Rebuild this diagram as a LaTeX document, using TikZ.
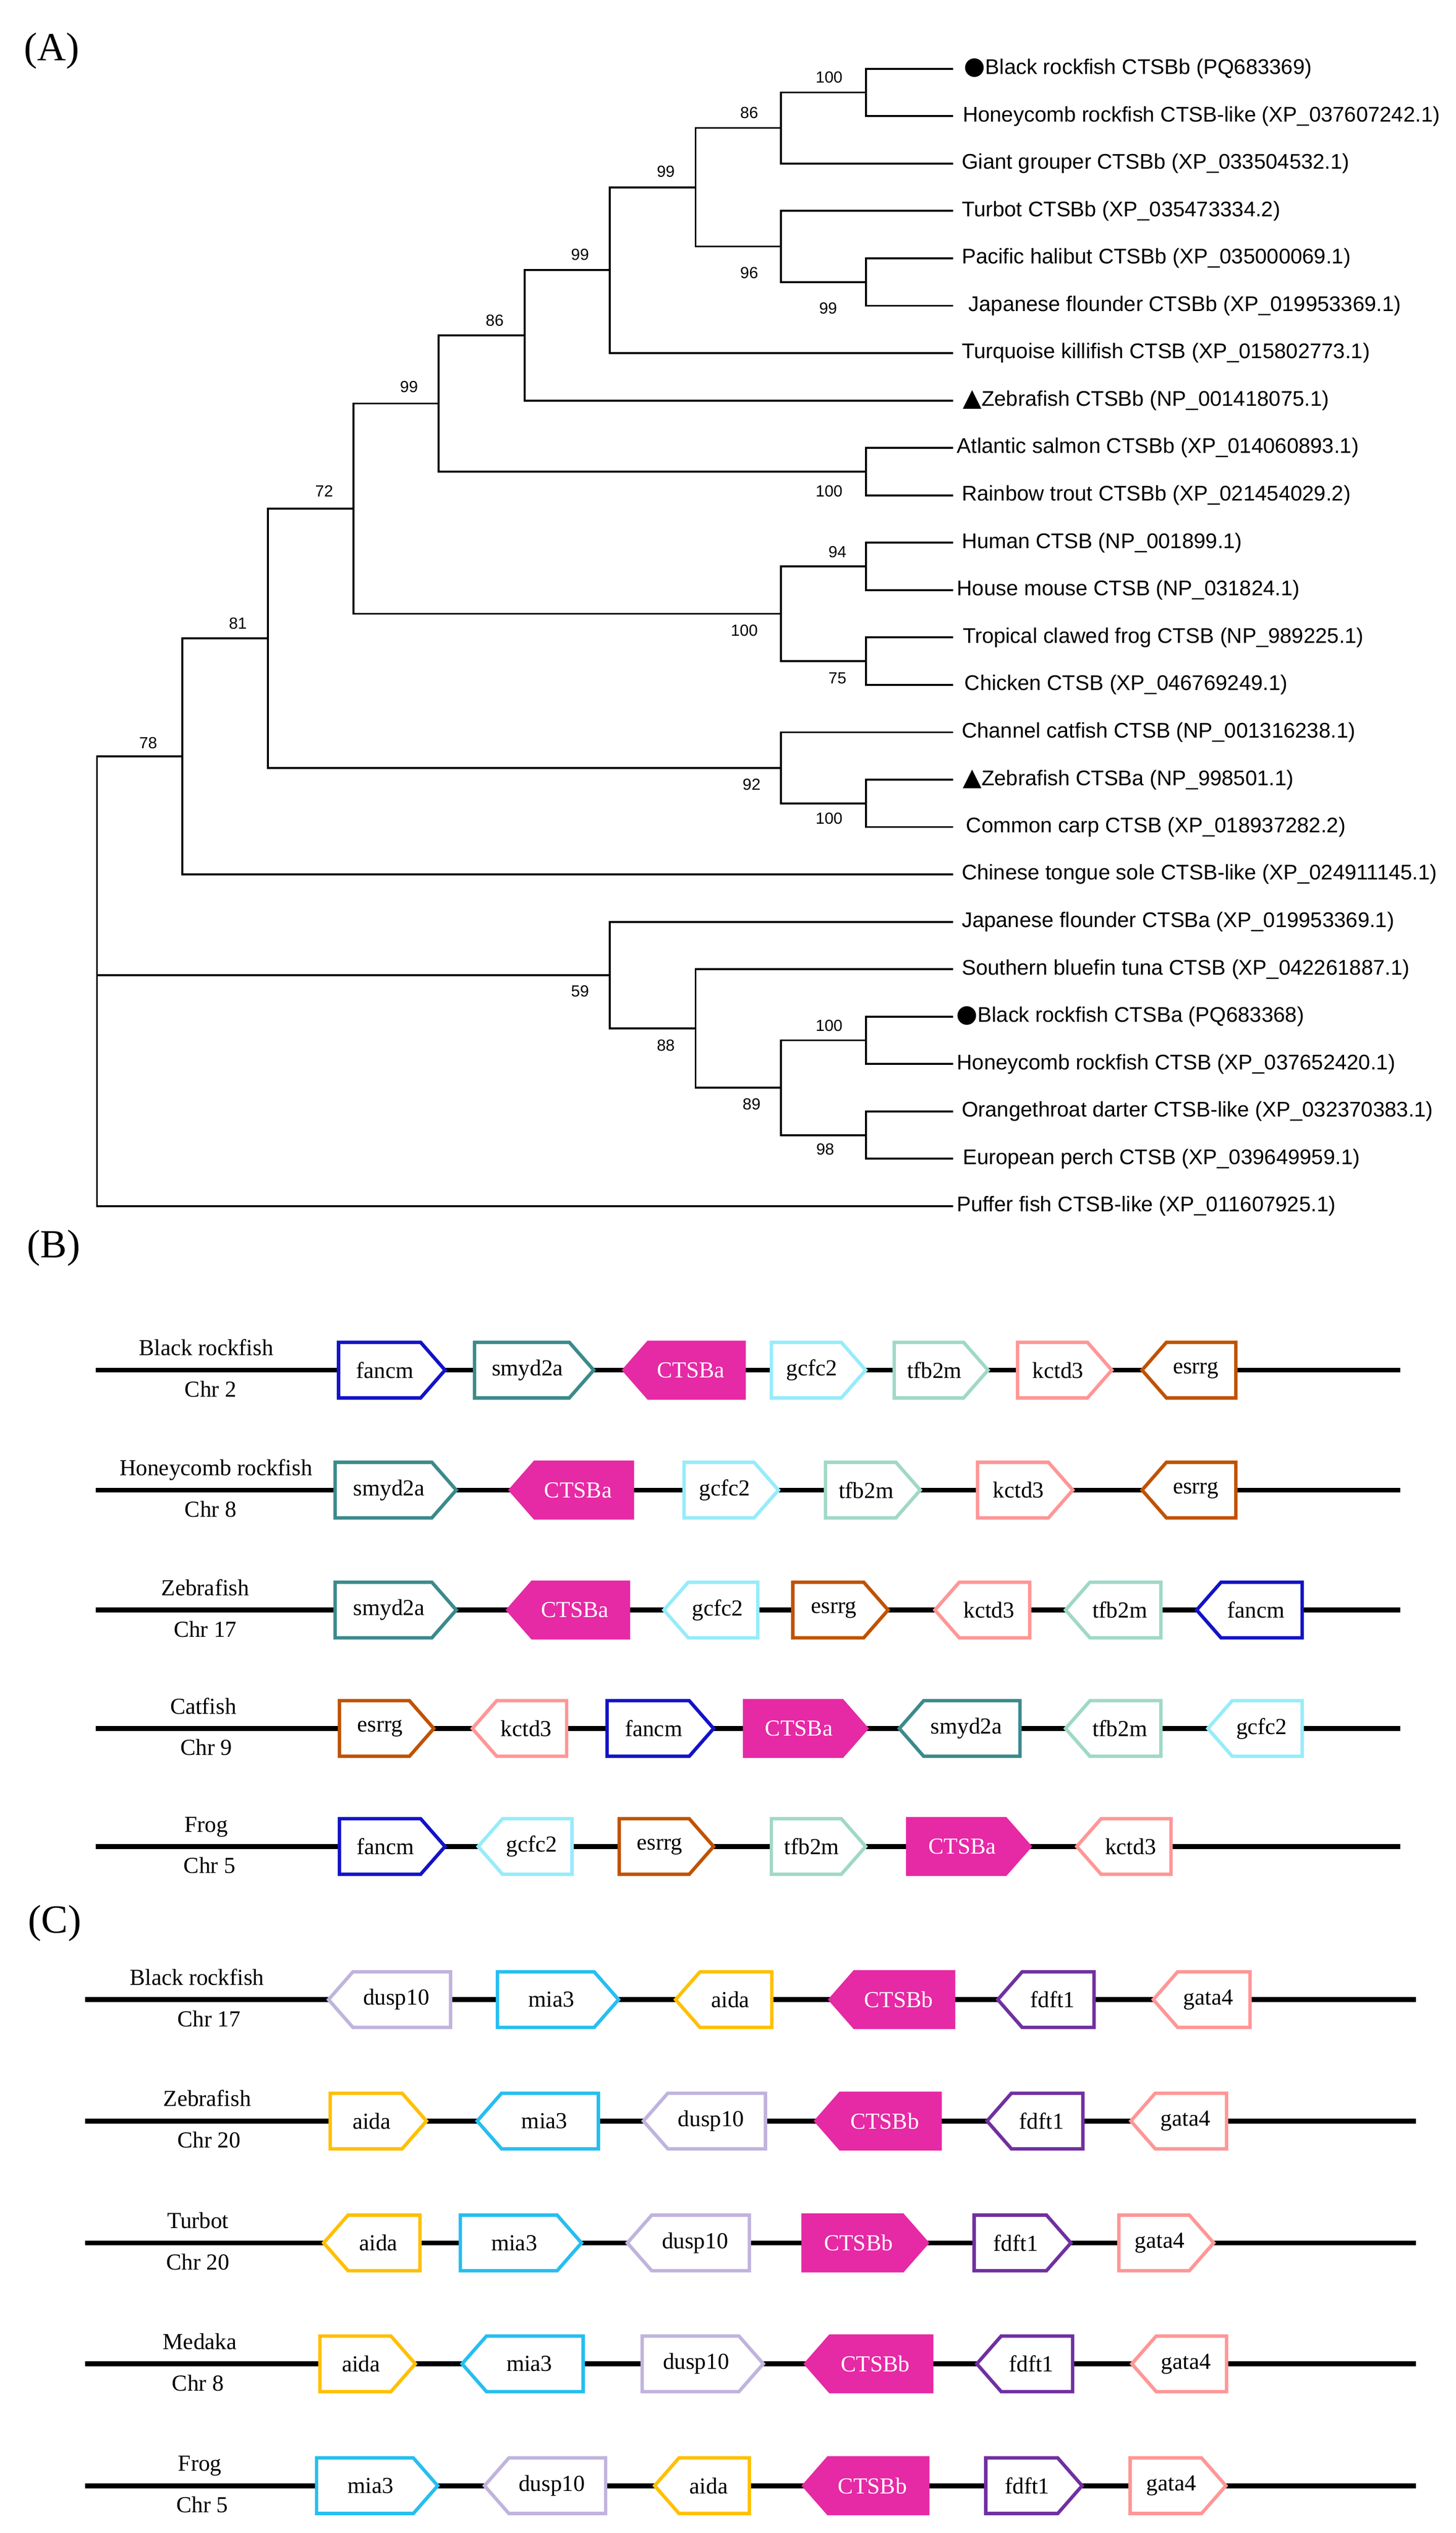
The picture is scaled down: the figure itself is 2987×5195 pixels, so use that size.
\documentclass[tikz,border=0pt]{standalone}
\usepackage{fontspec}
\setmainfont{Liberation Serif}
\newfontfamily\treefont{Liberation Sans}
\newfontfamily\symfont{DejaVu Sans}
\definecolor{cFancm}{RGB}{18,18,200}
\definecolor{cSmyd}{RGB}{59,138,140}
\definecolor{cCTSB}{RGB}{230,41,165}
\definecolor{cGcfc}{RGB}{150,236,250}
\definecolor{cTfb}{RGB}{160,216,200}
\definecolor{cKctd}{RGB}{255,150,150}
\definecolor{cEsrrg}{RGB}{192,82,0}
\definecolor{cDusp}{RGB}{192,180,222}
\definecolor{cMia}{RGB}{38,190,240}
\definecolor{cAida}{RGB}{255,192,0}
\definecolor{cFdft}{RGB}{112,48,160}
\definecolor{cGata}{RGB}{255,150,150}
\newcommand{\mysym}[1]{{\symfont\fontsize{50}{50}\selectfont #1}}
% right-pointing gene: id, rectL, rectR, y, colour, label, fill, textcolour
\newcommand{\geneR}[8]{%
  \draw[genebox, draw=#5, fill=#7] (#2+3.5,#4-57) -- (#3,#4-57) -- (#3+50,#4) -- (#3,#4+57) -- (#2+3.5,#4+57) -- cycle;
  \node[genelabel, text=#8] (#1) at ({(#2+#3)/2+13},#4) {#6};}
% left-pointing gene
\newcommand{\geneL}[8]{%
  \draw[genebox, draw=#5, fill=#7] (#2-50,#4) -- (#2,#4-57) -- (#3-3.5,#4-57) -- (#3-3.5,#4+57) -- (#2,#4+57) -- cycle;
  \node[genelabel, text=#8] (#1) at ({(#2+#3)/2-13},#4) {#6};}
\begin{document}
\begin{tikzpicture}[x=1pt,y=-1pt,
  branch/.style={line width=4pt},
  leaf/.style={anchor=west, inner sep=0pt, font=\treefont\fontsize{43.5}{52}\selectfont},
  bs/.style={inner sep=0pt, font=\treefont\fontsize{33}{40}\selectfont},
  chrom/.style={line width=10pt},
  genebox/.style={line width=7pt, line join=miter},
  genelabel/.style={inner sep=0pt, font=\fontsize{47}{56}\selectfont},
  species/.style={anchor=base, inner sep=0pt, font=\fontsize{47}{56}\selectfont},
  panel/.style={inner sep=0pt, font=\fontsize{82}{96}\selectfont}]
\useasboundingbox[fill=white] (0,0) rectangle (2987,5195);

% ---------------- Panel A: tree ----------------
\node[panel] (pA) at (106,104) {(A)};
\foreach \i/\yy in {0/141.0,1/238.2,2/335.4,3/432.6,4/529.8,5/627.0,6/724.2,7/821.4,8/918.6,9/1015.8,10/1113.0,11/1210.2,12/1307.4,13/1404.6,14/1501.8,15/1599.0,16/1696.2,17/1793.4,18/1890.6,19/1987.8,20/2085.0,21/2182.2,22/2279.4,23/2376.6,24/2473.8}
  \coordinate (l\i) at (1955,\yy);
% internal nodes
\coordinate (n01) at (1777,189.6);
\coordinate (n012) at (1602,262.4);
\coordinate (n45) at (1777,578.4);
\coordinate (n345) at (1602,505.5);
\coordinate (n05) at (1427,384.0);
\coordinate (n06) at (1251,554.1);
\coordinate (n07) at (1076,687.7);
\coordinate (n89) at (1777,967.2);
\coordinate (n09) at (900,827.5);
\coordinate (n1011) at (1777,1161.6);
\coordinate (n1213) at (1777,1356.0);
\coordinate (n1013) at (1602,1258.8);
\coordinate (n013) at (725,1043.1);
\coordinate (n1516) at (1777,1647.6);
\coordinate (n1416) at (1602,1574.7);
\coordinate (n016) at (550,1308.9);
\coordinate (n017) at (374,1551.2);
\coordinate (n2021) at (1777,2133.6);
\coordinate (n2223) at (1777,2328.0);
\coordinate (n2023) at (1602,2230.8);
\coordinate (n1923) at (1427,2109.3);
\coordinate (n1823) at (1251,2000.0);
\coordinate (root) at (199,2000.0);
\foreach \p/\c in {n01/l0,n01/l1,n012/n01,n012/l2,n45/l4,n45/l5,n345/l3,n345/n45,n05/n012,n05/n345,n06/n05,n06/l6,n07/n06,n07/l7,n89/l8,n89/l9,n09/n07,n09/n89,n1011/l10,n1011/l11,n1213/l12,n1213/l13,n1013/n1011,n1013/n1213,n013/n09,n013/n1013,n1516/l15,n1516/l16,n1416/l14,n1416/n1516,n016/n013,n016/n1416,n017/n016,n017/l17,n2021/l20,n2021/l21,n2223/l22,n2223/l23,n2023/n2021,n2023/n2223,n1923/l19,n1923/n2023,n1823/l18,n1823/n1923,root/n017,root/n1823,root/l24}
  \draw[branch] (\p) |- (\c);
% bootstrap values
\node[bs] (b01) at (1701,158) {100};
\node[bs] (b012) at (1537,231) {86};
\node[bs] (b05) at (1366,352) {99};
\node[bs] (b345) at (1537,560) {96};
\node[bs] (b45) at (1699,632) {99};
\node[bs] (b06) at (1190,522) {99};
\node[bs] (b07) at (1015,657) {86};
\node[bs] (b09) at (839,793) {99};
\node[bs] (b89) at (1701,1007) {100};
\node[bs] (b013) at (665,1007) {72};
\node[bs] (b1011) at (1718,1132) {94};
\node[bs] (b1013) at (1527,1293) {100};
\node[bs] (b016) at (488,1279) {81};
\node[bs] (b1213) at (1718,1391) {75};
\node[bs] (b1416) at (1542,1609) {92};
\node[bs] (b1516) at (1701,1679) {100};
\node[bs] (b017) at (304,1524) {78};
\node[bs] (b1823) at (1190,2033) {59};
\node[bs] (b2021) at (1701,2104) {100};
\node[bs] (b1923) at (1366,2144) {88};
\node[bs] (b2023) at (1542,2265) {89};
\node[bs] (b2223) at (1693,2357) {98};
% leaf labels
\node[leaf] (t0) at (1978,141.0) {\mysym{●}Black rockfish CTSBb (PQ683369)};
\node[leaf] (t1) at (1975,238.2) {Honeycomb rockfish CTSB-like (XP\_037607242.1)};
\node[leaf] (t2) at (1973,335.4) {Giant grouper CTSBb (XP\_033504532.1)};
\node[leaf] (t3) at (1973,432.6) {Turbot CTSBb (XP\_035473334.2)};
\node[leaf] (t4) at (1973,529.8) {Pacific halibut CTSBb (XP\_035000069.1)};
\node[leaf] (t5) at (1987,627.0) {Japanese flounder CTSBb (XP\_019953369.1)};
\node[leaf] (t6) at (1973,724.2) {Turquoise killifish CTSB (XP\_015802773.1)};
\node[leaf] (t7) at (1975,821.4) {\mysym{▲}Zebrafish CTSBb (NP\_001418075.1)};
\node[leaf] (t8) at (1963,918.6) {Atlantic salmon CTSBb (XP\_014060893.1)};
\node[leaf] (t9) at (1973,1015.8) {Rainbow trout CTSBb (XP\_021454029.2)};
\node[leaf] (t10) at (1973,1113.0) {Human CTSB (NP\_001899.1)};
\node[leaf] (t11) at (1963,1210.2) {House mouse CTSB (NP\_031824.1)};
\node[leaf] (t12) at (1975,1307.4) {Tropical clawed frog CTSB (NP\_989225.1)};
\node[leaf] (t13) at (1979,1404.6) {Chicken CTSB (XP\_046769249.1)};
\node[leaf] (t14) at (1973,1501.8) {Channel catfish CTSB (NP\_001316238.1)};
\node[leaf] (t15) at (1975,1599.0) {\mysym{▲}Zebrafish CTSBa (NP\_998501.1)};
\node[leaf] (t16) at (1982,1696.2) {Common carp CTSB (XP\_018937282.2)};
\node[leaf] (t17) at (1973,1793.4) {Chinese tongue sole CTSB-like (XP\_024911145.1)};
\node[leaf] (t18) at (1973,1890.6) {Japanese flounder CTSBa (XP\_019953369.1)};
\node[leaf] (t19) at (1973,1987.8) {Southern bluefin tuna CTSB (XP\_042261887.1)};
\node[leaf] (t20) at (1962,2085.0) {\mysym{●}Black rockfish CTSBa (PQ683368)};
\node[leaf] (t21) at (1963,2182.2) {Honeycomb rockfish CTSB (XP\_037652420.1)};
\node[leaf] (t22) at (1973,2279.4) {Orangethroat darter CTSB-like (XP\_032370383.1)};
\node[leaf] (t23) at (1975,2376.6) {European perch CTSB (XP\_039649959.1)};
\node[leaf] (t24) at (1963,2473.8) {Puffer fish CTSB-like (XP\_011607925.1)};

% ---------------- Panel B ----------------
\node[panel] (pB) at (110,2560) {(B)};
\foreach \r/\yy in {1/2810,2/3056,3/3302,4/3545,5/3787}{
  \coordinate (bs\r) at (196,\yy); \coordinate (be\r) at (2873,\yy);
  \draw[chrom] (bs\r) -- (be\r);}
\node[species] (bsp1) at (423,2780) {Black rockfish};
\node[species] (bch1) at (432,2865) {Chr 2};
\node[species] (bsp2) at (443,3026) {Honeycomb rockfish};
\node[species] (bch2) at (432,3111) {Chr 8};
\node[species] (bsp3) at (421,3272) {Zebrafish};
\node[species] (bch3) at (421,3357) {Chr 17};
\node[species] (bsp4) at (417,3515) {Catfish};
\node[species] (bch4) at (423,3600) {Chr 9};
\node[species] (bsp5) at (423,3757) {Frog};
\node[species] (bch5) at (430,3842) {Chr 5};
% row 1
\geneR{b1a}{691}{863}{2810}{cFancm}{fancm}{white}{black}
\geneR{b1b}{970}{1168}{2810}{cSmyd}{smyd2a}{white}{black}
\geneL{b1c}{1330}{1530}{2810}{cCTSB}{CTSBa}{cCTSB}{white}
\geneR{b1d}{1579}{1726}{2810}{cGcfc}{gcfc2}{white}{black}
\geneR{b1e}{1831}{1977}{2810}{cTfb}{tfb2m}{white}{black}
\geneR{b1f}{2084}{2231}{2810}{cKctd}{kctd3}{white}{black}
\geneL{b1g}{2393}{2539}{2810}{cEsrrg}{esrrg}{white}{black}
% row 2
\geneR{b2a}{684}{886}{3056}{cSmyd}{smyd2a}{white}{black}
\geneL{b2b}{1097}{1301}{3056}{cCTSB}{CTSBa}{cCTSB}{white}
\geneR{b2c}{1400}{1547}{3056}{cGcfc}{gcfc2}{white}{black}
\geneR{b2d}{1690}{1838}{3056}{cTfb}{tfb2m}{white}{black}
\geneR{b2e}{2002}{2151}{3056}{cKctd}{kctd3}{white}{black}
\geneL{b2f}{2393}{2539}{3056}{cEsrrg}{esrrg}{white}{black}
% row 3
\geneR{b3a}{684}{886}{3302}{cSmyd}{smyd2a}{white}{black}
\geneL{b3b}{1092}{1293}{3302}{cCTSB}{CTSBa}{cCTSB}{white}
\geneL{b3c}{1412}{1558}{3302}{cGcfc}{gcfc2}{white}{black}
\geneR{b3d}{1623}{1772}{3302}{cEsrrg}{esrrg}{white}{black}
\geneL{b3e}{1968}{2116}{3302}{cKctd}{kctd3}{white}{black}
\geneL{b3f}{2236}{2385}{3302}{cTfb}{tfb2m}{white}{black}
\geneL{b3g}{2505}{2675}{3302}{cFancm}{fancm}{white}{black}
% row 4
\geneR{b4a}{693}{840}{3545}{cEsrrg}{esrrg}{white}{black}
\geneL{b4b}{1019}{1166}{3545}{cKctd}{kctd3}{white}{black}
\geneR{b4c}{1242}{1414}{3545}{cFancm}{fancm}{white}{black}
\geneR{b4d}{1524}{1728}{3545}{cCTSB}{CTSBa}{cCTSB}{white}
\geneL{b4e}{1895}{2096}{3545}{cSmyd}{smyd2a}{white}{black}
\geneL{b4f}{2236}{2385}{3545}{cTfb}{tfb2m}{white}{black}
\geneL{b4g}{2528}{2675}{3545}{cGcfc}{gcfc2}{white}{black}
% row 5
\geneR{b5a}{693}{863}{3787}{cFancm}{fancm}{white}{black}
\geneL{b5b}{1031}{1177}{3787}{cGcfc}{gcfc2}{white}{black}
\geneR{b5c}{1267}{1414}{3787}{cEsrrg}{esrrg}{white}{black}
\geneR{b5d}{1579}{1726}{3787}{cTfb}{tfb2m}{white}{black}
\geneR{b5e}{1859}{2063}{3787}{cCTSB}{CTSBa}{cCTSB}{white}
\geneL{b5f}{2259}{2406}{3787}{cKctd}{kctd3}{white}{black}

% ---------------- Panel C ----------------
\node[panel] (pC) at (112,3945) {(C)};
\foreach \r/\yy in {1/4101,2/4350,3/4600,4/4848,5/5098}{
  \coordinate (cs\r) at (175,\yy); \coordinate (ce\r) at (2905,\yy);
  \draw[chrom] (cs\r) -- (ce\r);}
\node[species] (csp1) at (404,4071) {Black rockfish};
\node[species] (cch1) at (429,4156) {Chr 17};
\node[species] (csp2) at (425,4320) {Zebrafish};
\node[species] (cch2) at (429,4405) {Chr 20};
\node[species] (csp3) at (406,4570) {Turbot};
\node[species] (cch3) at (406,4655) {Chr 20};
\node[species] (csp4) at (410,4818) {Medaka};
\node[species] (cch4) at (406,4903) {Chr 8};
\node[species] (csp5) at (410,5068) {Frog};
\node[species] (cch5) at (415,5153) {Chr 5};
% row 1
\geneL{c1a}{724}{928}{4101}{cDusp}{dusp10}{white}{black}
\geneR{c1b}{1017}{1219}{4101}{cMia}{mia3}{white}{black}
\geneL{c1c}{1436}{1587}{4101}{cAida}{aida}{white}{black}
\geneL{c1d}{1753}{1960}{4101}{cCTSB}{CTSBb}{cCTSB}{white}
\geneL{c1e}{2097}{2248}{4101}{cFdft}{fdft1}{white}{black}
\geneL{c1f}{2416}{2568}{4101}{cGata}{gata4}{white}{black}
% row 2
\geneR{c2a}{674}{825}{4350}{cAida}{aida}{white}{black}
\geneL{c2b}{1029}{1231}{4350}{cMia}{mia3}{white}{black}
\geneL{c2c}{1370}{1574}{4350}{cDusp}{dusp10}{white}{black}
\geneL{c2d}{1724}{1932}{4350}{cCTSB}{CTSBb}{cCTSB}{white}
\geneL{c2e}{2075}{2225}{4350}{cFdft}{fdft1}{white}{black}
\geneL{c2f}{2370}{2520}{4350}{cGata}{gata4}{white}{black}
% row 3
\geneL{c3a}{714}{865}{4600}{cAida}{aida}{white}{black}
\geneR{c3b}{941}{1143}{4600}{cMia}{mia3}{white}{black}
\geneL{c3c}{1337}{1541}{4600}{cDusp}{dusp10}{white}{black}
\geneR{c3d}{1644}{1852}{4600}{cCTSB}{CTSBb}{cCTSB}{white}
\geneR{c3e}{1995}{2147}{4600}{cFdft}{fdft1}{white}{black}
\geneR{c3f}{2292}{2440}{4600}{cGata}{gata4}{white}{black}
% row 4
\geneR{c4a}{653}{802}{4848}{cAida}{aida}{white}{black}
\geneL{c4b}{998}{1200}{4848}{cMia}{mia3}{white}{black}
\geneR{c4c}{1314}{1516}{4848}{cDusp}{dusp10}{white}{black}
\geneL{c4d}{1703}{1915}{4848}{cCTSB}{CTSBb}{cCTSB}{white}
\geneL{c4e}{2054}{2204}{4848}{cFdft}{fdft1}{white}{black}
\geneL{c4f}{2372}{2520}{4848}{cGata}{gata4}{white}{black}
% row 5
\geneR{c5a}{646}{848}{5098}{cMia}{mia3}{white}{black}
\geneL{c5b}{1044}{1246}{5098}{cDusp}{dusp10}{white}{black}
\geneL{c5c}{1393}{1541}{5098}{cAida}{aida}{white}{black}
\geneL{c5d}{1699}{1907}{5098}{cCTSB}{CTSBb}{cCTSB}{white}
\geneR{c5e}{2019}{2170}{5098}{cFdft}{fdft1}{white}{black}
\geneR{c5f}{2315}{2465}{5098}{cGata}{gata4}{white}{black}
\end{tikzpicture}
\end{document}
